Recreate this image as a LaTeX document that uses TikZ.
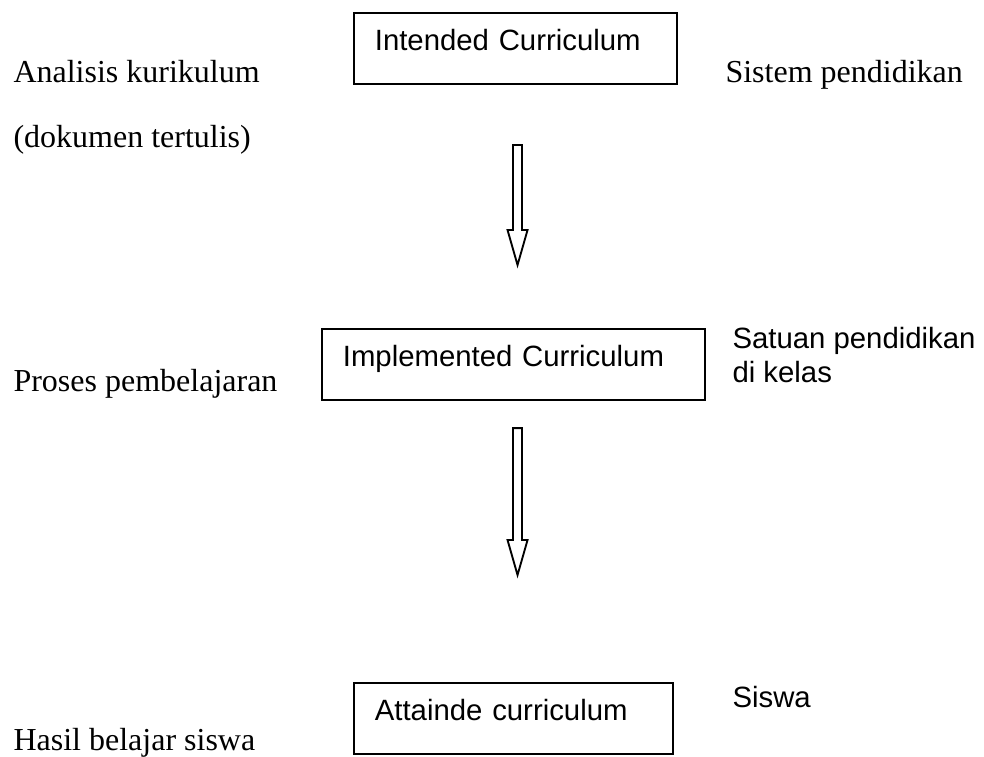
\documentclass[tikz,border=0pt]{standalone}
\usepackage{fontspec}
\setmainfont{Liberation Serif}
\setsansfont{Liberation Sans}
\usetikzlibrary{calc, positioning}

\newcommand{\panahkosong}[2]{%
  \draw[garis] ($(#1)+(-4.5,0)$) -- ($(#2)+(-4.5,-35)$) -- ($(#2)+(-10,-35)$) -- (#2)
    -- ($(#2)+(10,-35)$) -- ($(#2)+(4.5,-35)$) -- ($(#1)+(4.5,0)$) -- cycle;}

\begin{document}
\begin{tikzpicture}[
    x=0.375pt, y=-0.375pt,
    every node/.style={inner sep=0pt},
    keterangan/.style={font=\fontsize{12}{14}\selectfont, anchor=base west},
    catatan/.style={font=\sffamily\fontsize{11}{12.75}\selectfont, anchor=base west, align=left},
    kotak/.style={draw, line width=0.8pt, font=\sffamily\fontsize{11}{13}\selectfont,
                  anchor=north west, inner xsep=7.8pt, inner ysep=0pt,
                  text height=14pt, text depth=12.6pt},
    garis/.style={line width=0.7pt, fill=white}
]
\useasboundingbox (0,0) rectangle (984,756);
\node[kotak, text width=105.5pt] (intended) at (353,12) {Intended Curriculum};
\node[kotak, text width=128pt] (implemented) at (321,328) {Implemented Curriculum};
\node[kotak, text width=104pt] (attained) at (353,682) {Attainde curriculum};
\node[keterangan] (analisis) at (13,83) {Analisis kurikulum};
\node[keterangan] (dokumen) at (13,147) {(dokumen tertulis)};
\node[keterangan] (proses) at (13,391) {Proses pembelajaran};
\node[keterangan] (hasil) at (13,750) {Hasil belajar siswa};
\node[keterangan] (sistem) at (725,83) {Sistem pendidikan};
\node[catatan] (satuan) at (732,382) {Satuan pendidikan\\di kelas};
\node[catatan] (siswa) at (732,707) {Siswa};
\coordinate (a1) at ($(intended.south)+(2,60)$);
\coordinate (b1) at ($(implemented.north)+(4,-63)$);
\coordinate (a2) at ($(implemented.south)+(4,27)$);
\coordinate (b2) at ($(attained.north)+(4,-107)$);
\panahkosong{a1}{b1}
\panahkosong{a2}{b2}
\end{tikzpicture}
\end{document}
